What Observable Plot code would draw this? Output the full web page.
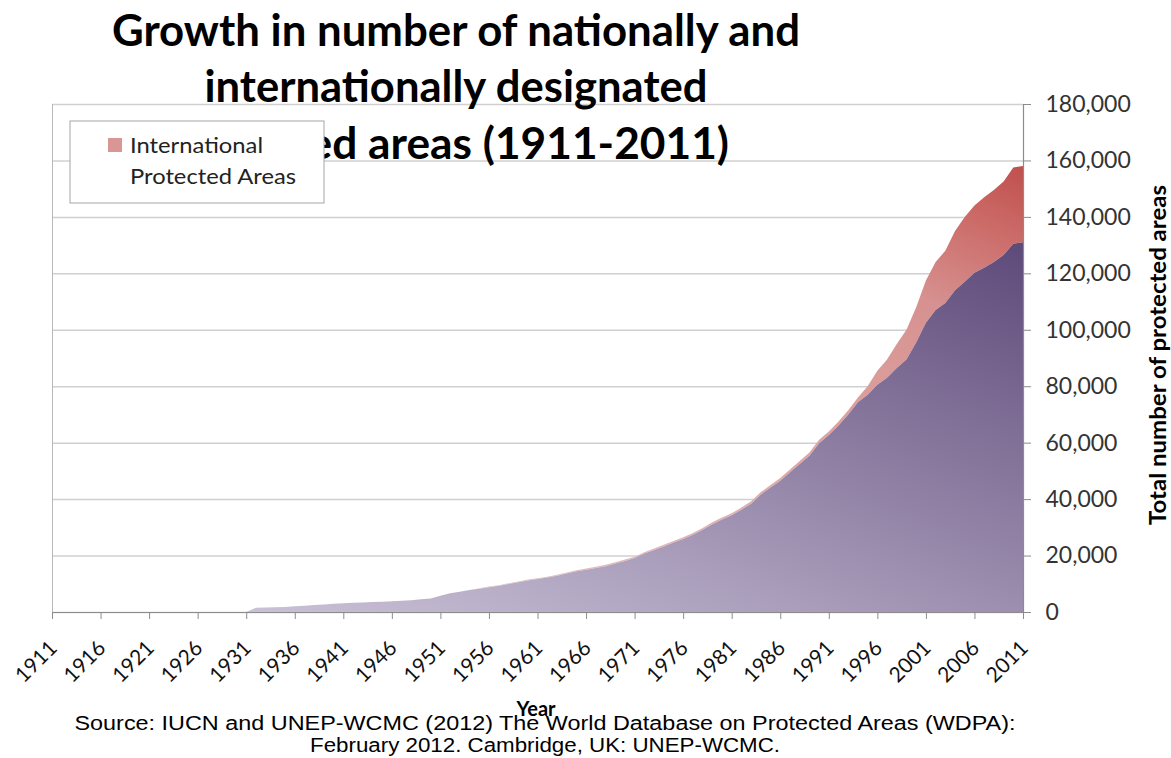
<!DOCTYPE html>
<html>
<head>
<meta charset="utf-8">
<script src="https://cdn.jsdelivr.net/npm/d3@7"></script>
<script src="https://cdn.jsdelivr.net/npm/@observablehq/plot@0.6"></script>
<style>
  html, body { margin: 0; padding: 0; background: #fff; }
  #wrap { position: relative; width: 1171px; height: 758px; overflow: hidden; }
  #wrap > svg { position: absolute; left: 0; top: 0; }
  #overlay { pointer-events: none; }
</style>
</head>
<body>
<div id="wrap"></div>
<script>
// ---- Data ----
const years = d3.range(1911, 2012);
const national = [
  0,0,0,0,0, 0,0,0,0,0, 0,0,0,0,0, 0,0,0,0,0, 0,
  1500,1600,1700,1800,2000,2200,2500,2700,2900,
  3100,3300,3400,3500,3600,3800,4000,4200,4500,4800,
  5800,6600,7200,7800,8250,8800,9300,9950,10550,11200,
  11700,12200,12850,13650,14400,15000,15600,16250,17150,18100,
  19100,20700,21950,23250,24600,25900,27350,29150,31100,32800,
  34250,36250,38400,41650,44100,46550,49500,52450,55400,59800,
  62700,66100,70000,74300,77000,80500,83000,86500,89500,95500,
  102500,107000,109500,114000,117000,120200,122000,124000,126500,130500,131000
];
const international = [
  0,0,0,0,0, 0,0,0,0,0, 0,0,0,0,0, 0,0,0,0,0, 0,0,0,0,0, 0,0,0,0,0,
  0,0,0,0,0, 0,0,0,0,0, 0,0,0,0,
  150,200,200,250,250,300,
  300,300,350,350,400,400,400,450,450,500,
  500,500,550,550,600,600,650,650,700,700,
  750,750,800,850,900,950,1000,1050,1100,1200,
  1300,1400,1500,1700,3000,5000,6500,8500,10500,12500,
  15000,17000,18500,21000,23000,23800,25000,25500,26000,27000,27000
];
const xTicks = [1911,1916,1921,1926,1931,1936,1941,1946,1951,1956,1961,1966,1971,1976,1981,1986,1991,1996,2001,2006,2011];
const yTicks = [0,20000,40000,60000,80000,100000,120000,140000,160000,180000];
const titleLines = ["Growth in number of nationally and", "internationally designated", "protected areas (1911-2011)"];
const legendLabel = ["International", "Protected Areas"];
const yTitle = "Total number of protected areas";
const xTitle = "Year";
const sourceLines = ["Source: IUCN and UNEP-WCMC (2012) The World Database on Protected Areas (WDPA):", "February 2012. Cambridge, UK:  UNEP-WCMC."];

const rows = years.map((year, i) => ({year, national: national[i], international: international[i]}));

const chart = Plot.plot({
  width: 1171,
  height: 758,
  marginLeft: 52,
  marginRight: 148,
  marginTop: 104,
  marginBottom: 146,
  style: {fontFamily: "Lato, sans-serif", background: "transparent"},
  x: {domain: [1911, 2011]},
  y: {domain: [0, 180000]},
  marks: [
    Plot.ruleY(yTicks, {stroke: "#d0d0d0", strokeWidth: 1.5}),
    Plot.ruleX([1911], {stroke: "#b8b8b8"}),
    Plot.areaY(rows, {x: "year", y1: "national", y2: d => d.national + d.international, fill: "url(#gradIntl)"}),
    Plot.areaY(rows, {x: "year", y: "national", fill: "url(#gradNat)"}),
    Plot.ruleY([0], {stroke: "#8c8c8c", strokeWidth: 1.2}),
    Plot.ruleX([2011], {stroke: "#8c8c8c", strokeWidth: 1.2}),
    Plot.axisX({ticks: xTicks, tickSize: 7, tickFormat: () => "", stroke: "#8c8c8c", label: null}),
    Plot.axisY({anchor: "right", ticks: yTicks, tickSize: 7, tickFormat: () => "", stroke: "#8c8c8c", label: null}),
    Plot.text(xTicks, {x: d => d, text: d => String(d), frameAnchor: "bottom", rotate: -45, textAnchor: "end", lineAnchor: "middle", dx: 1, dy: 32, fontSize: 21, fill: "#111"}),
    Plot.text(yTicks, {y: d => d, text: d => d3.format(",")(d), frameAnchor: "right", textAnchor: "start", dx: 22, fontSize: 23, fill: "#333"})
  ]
});

// gradients for the filled areas
const defs = d3.select(chart).insert("defs", ":first-child");
const gN = defs.append("linearGradient").attr("id", "gradNat").attr("x1", 0).attr("y1", 1).attr("x2", 1).attr("y2", 0);
[[0, "#d4cde0"], [0.35, "#aea3bf"], [0.65, "#8a7a9f"], [1, "#5e4a7a"]].forEach(([o, c]) => gN.append("stop").attr("offset", o).attr("stop-color", c));
const gI = defs.append("linearGradient").attr("id", "gradIntl").attr("x1", 0).attr("y1", 1).attr("x2", 1).attr("y2", 0);
[[0, "#f0d8d7"], [0.69, "#da9b99"], [0.8, "#d69190"], [0.91, "#cc6d6a"], [1, "#c0504d"]].forEach(([o, c]) => gI.append("stop").attr("offset", o).attr("stop-color", c));

const wrap = document.getElementById("wrap");
wrap.appendChild(chart);

// overlay: title, legend, axis titles, source
const ov = d3.select(wrap).append("svg").attr("id", "overlay").attr("width", 1171).attr("height", 758)
  .attr("xmlns", "http://www.w3.org/2000/svg").style("font-family", "Lato, sans-serif");

// y axis title (right side, reading upward)
ov.append("text").attr("transform", "translate(1160,355) rotate(-90)").attr("text-anchor", "middle")
  .attr("dominant-baseline", "middle").attr("font-size", 23).attr("font-weight", "bold").attr("fill", "#000")
  .attr("textLength", 340).attr("lengthAdjust", "spacingAndGlyphs").text(yTitle);

const titleY = [46, 102, 159];
const titleX = [456, 456, 447];
const titleW = [688, 503, 564];
titleLines.forEach((t, i) => {
  ov.append("text").attr("x", titleX[i]).attr("y", titleY[i]).attr("text-anchor", "middle")
    .attr("font-size", 44).attr("font-weight", "bold").attr("fill", "#000")
    .attr("textLength", titleW[i]).attr("lengthAdjust", "spacingAndGlyphs").text(t);
});

// legend
ov.append("rect").attr("x", 70).attr("y", 121).attr("width", 254).attr("height", 82)
  .attr("fill", "#fff").attr("stroke", "#a6a6a6");
ov.append("rect").attr("x", 108).attr("y", 138).attr("width", 14).attr("height", 14).attr("fill", "#d99694");
const legW = [133, 166];
legendLabel.forEach((t, i) => {
  ov.append("text").attr("x", 130).attr("y", 153 + i * 31).attr("font-size", 22).attr("fill", "#222")
    .attr("textLength", legW[i]).attr("lengthAdjust", "spacingAndGlyphs").text(t);
});

// source caption
const srcY = [730, 752];
const srcW = [941, 470];
sourceLines.forEach((t, i) => {
  ov.append("text").attr("x", 545).attr("y", srcY[i]).attr("text-anchor", "middle")
    .attr("font-family", "Liberation Sans, Arial, sans-serif").attr("font-size", 20).attr("fill", "#000")
    .attr("textLength", srcW[i]).attr("lengthAdjust", "spacingAndGlyphs").text(t);
});

// x axis title
ov.append("text").attr("x", 536).attr("y", 716).attr("text-anchor", "middle")
  .attr("font-size", 20).attr("font-weight", "bold").attr("fill", "#000").text(xTitle);
</script>
</body>
</html>
